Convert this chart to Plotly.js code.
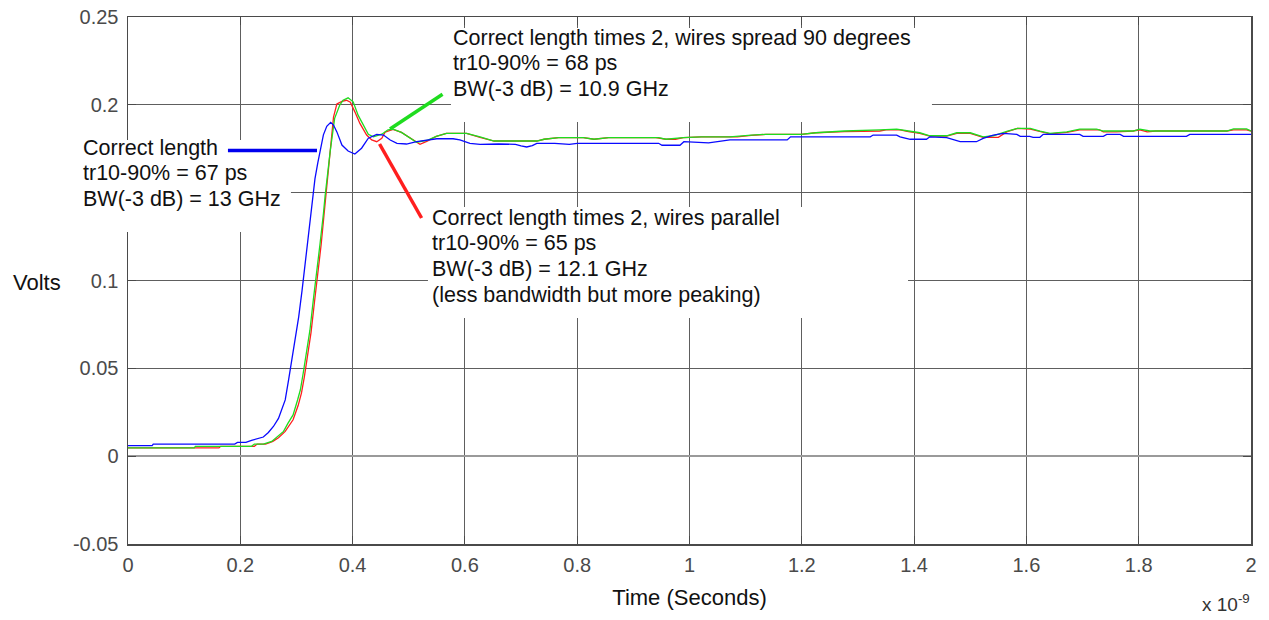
<!DOCTYPE html>
<html>
<head>
<meta charset="utf-8">
<script src="https://cdn.plot.ly/plotly-3.0.1.min.js"></script>
<style>
  html, body { margin: 0; padding: 0; background: #fff; }
  #chart { width: 1269px; height: 620px; }
</style>
</head>
<body>
<div id="chart"></div>
<script>
// Time in units of 1e-9 s (axis shows "x 10^-9"), voltage in volts
const tBlue = [0, 0.043, 0.045, 0.19, 0.195, 0.21, 0.22, 0.241, 0.25, 0.259, 0.268, 0.274, 0.28, 0.286, 0.292, 0.298, 0.304, 0.31, 0.316, 0.321, 0.327, 0.333, 0.338, 0.343, 0.348, 0.354, 0.361, 0.366, 0.372, 0.381, 0.392, 0.404, 0.416, 0.428, 0.443, 0.455, 0.467, 0.479, 0.496, 0.514, 0.532, 0.55, 0.579, 0.591, 0.609, 0.627, 0.66, 0.69, 0.7, 0.71, 0.72, 0.728, 0.76, 0.786, 0.8, 0.945, 0.951, 0.983, 0.99, 1.034, 1.072, 1.174, 1.18, 1.322, 1.327, 1.369, 1.375, 1.393, 1.422, 1.428, 1.458, 1.47, 1.482, 1.511, 1.523, 1.541, 1.559, 1.583, 1.589, 1.606, 1.612, 1.624, 1.63, 1.695, 1.701, 1.737, 1.743, 1.767, 1.773, 1.885, 1.891, 2.0];
const vBlue = [0.006, 0.006, 0.0069, 0.0069, 0.0078, 0.0078, 0.009, 0.0109, 0.0135, 0.0169, 0.0215, 0.0264, 0.032, 0.0434, 0.0547, 0.0661, 0.0793, 0.0944, 0.1115, 0.1266, 0.1445, 0.158, 0.167, 0.175, 0.1829, 0.1878, 0.19, 0.1885, 0.1846, 0.1771, 0.1737, 0.172, 0.1753, 0.181, 0.1832, 0.1828, 0.18, 0.1781, 0.1777, 0.179, 0.18, 0.1807, 0.1807, 0.18, 0.178, 0.1775, 0.1777, 0.1775, 0.1766, 0.176, 0.1768, 0.1781, 0.1781, 0.1775, 0.1781, 0.1781, 0.177, 0.177, 0.179, 0.1784, 0.18, 0.18, 0.1818, 0.1818, 0.1828, 0.1828, 0.1818, 0.1804, 0.1804, 0.1818, 0.1813, 0.18, 0.179, 0.179, 0.1809, 0.1828, 0.1838, 0.1832, 0.1821, 0.1821, 0.1815, 0.1815, 0.1832, 0.1832, 0.1821, 0.1821, 0.1832, 0.1832, 0.1821, 0.1821, 0.1832, 0.1832];

const tGreen = [0, 0.118, 0.12, 0.22, 0.225, 0.241, 0.256, 0.265, 0.277, 0.285, 0.294, 0.302, 0.307, 0.312, 0.318, 0.324, 0.33, 0.336, 0.342, 0.348, 0.351, 0.36, 0.368, 0.377, 0.383, 0.392, 0.401, 0.41, 0.419, 0.428, 0.437, 0.452, 0.463, 0.472, 0.487, 0.502, 0.514, 0.532, 0.549, 0.567, 0.603, 0.627, 0.652, 0.728, 0.741, 0.767, 0.811, 0.83, 0.856, 0.945, 0.958, 0.989, 1.021, 1.072, 1.085, 1.11, 1.136, 1.199, 1.225, 1.276, 1.339, 1.369, 1.39, 1.41, 1.428, 1.458, 1.476, 1.5, 1.523, 1.541, 1.565, 1.584, 1.607, 1.624, 1.642, 1.672, 1.695, 1.725, 1.737, 1.79, 1.802, 1.82, 1.957, 1.969, 1.992, 2.0];
const vGreen = [0.0047, 0.0047, 0.0056, 0.0056, 0.0069, 0.0069, 0.0084, 0.0109, 0.0141, 0.0188, 0.0235, 0.032, 0.0378, 0.0472, 0.0585, 0.0717, 0.0888, 0.1039, 0.1209, 0.138, 0.148, 0.1733, 0.1923, 0.1998, 0.2026, 0.204, 0.2017, 0.194, 0.1884, 0.1832, 0.1818, 0.1833, 0.1858, 0.1862, 0.1843, 0.181, 0.1787, 0.1797, 0.182, 0.1838, 0.1838, 0.1818, 0.1794, 0.1794, 0.1804, 0.1813, 0.1813, 0.1804, 0.1813, 0.1813, 0.1804, 0.1813, 0.1818, 0.1818, 0.1822, 0.1828, 0.1832, 0.1832, 0.1841, 0.1851, 0.1857, 0.1862, 0.1851, 0.1841, 0.1824, 0.1824, 0.1841, 0.1841, 0.1818, 0.1824, 0.1849, 0.1866, 0.1866, 0.185, 0.1838, 0.1846, 0.1862, 0.1862, 0.1851, 0.1851, 0.1862, 0.1851, 0.1851, 0.1863, 0.1863, 0.1851];

const tRed = [0, 0.162, 0.165, 0.225, 0.23, 0.245, 0.258, 0.268, 0.28, 0.288, 0.294, 0.303, 0.309, 0.314, 0.32, 0.326, 0.332, 0.338, 0.344, 0.349, 0.353, 0.36, 0.366, 0.372, 0.381, 0.389, 0.396, 0.404, 0.413, 0.425, 0.434, 0.443, 0.452, 0.458, 0.472, 0.487, 0.502, 0.52, 0.532, 0.549, 0.567, 0.603, 0.627, 0.652, 0.728, 0.741, 0.767, 0.811, 0.83, 0.856, 0.94, 0.958, 0.975, 0.989, 1.021, 1.085, 1.11, 1.136, 1.199, 1.225, 1.276, 1.339, 1.35, 1.375, 1.39, 1.41, 1.428, 1.458, 1.476, 1.5, 1.523, 1.55, 1.565, 1.584, 1.607, 1.624, 1.642, 1.672, 1.695, 1.73, 1.737, 1.76, 1.79, 1.802, 1.815, 1.83, 1.957, 1.969, 1.992, 2.0];
const vRed = [0.0047, 0.0047, 0.0056, 0.0056, 0.0069, 0.0069, 0.0084, 0.0105, 0.0141, 0.0175, 0.0207, 0.0288, 0.036, 0.045, 0.057, 0.0705, 0.0875, 0.103, 0.1205, 0.137, 0.15, 0.1745, 0.193, 0.2005, 0.202, 0.2026, 0.2015, 0.196, 0.1894, 0.1828, 0.18, 0.179, 0.181, 0.1845, 0.186, 0.1843, 0.181, 0.1775, 0.1792, 0.182, 0.1838, 0.1838, 0.1815, 0.1794, 0.1794, 0.1804, 0.1813, 0.1813, 0.1804, 0.1813, 0.1813, 0.1804, 0.1804, 0.1813, 0.1818, 0.1818, 0.1826, 0.1832, 0.1832, 0.1841, 0.1848, 0.1851, 0.1857, 0.1857, 0.1848, 0.1838, 0.1822, 0.1822, 0.1838, 0.1838, 0.1815, 0.1815, 0.1846, 0.1866, 0.1862, 0.1848, 0.1835, 0.1843, 0.1858, 0.1858, 0.1846, 0.1846, 0.1851, 0.1858, 0.1846, 0.1851, 0.1851, 0.1858, 0.1858, 0.1851];

// 0.15 label is hidden behind the "Correct length" text box in the reference
const yTickVals = [-0.05, 0, 0.05, 0.1, 0.15, 0.2, 0.25];
const yTickText = ['-0.05', '0', '0.05', '0.1', '', '0.2', '0.25'];
const xTickVals = [0, 0.2, 0.4, 0.6, 0.8, 1, 1.2, 1.4, 1.6, 1.8, 2];
const xTickText = ['0', '0.2', '0.4', '0.6', '0.8', '1', '1.2', '1.4', '1.6', '1.8', '2'];

const blueLabel = ['Correct length', 'tr10-90% = 67 ps', 'BW(-3 dB) = 13 GHz'];
const greenLabel = ['Correct length times 2, wires spread 90 degrees', 'tr10-90% = 68 ps', 'BW(-3 dB) = 10.9 GHz'];
const redLabel = ['Correct length times 2, wires parallel', 'tr10-90% = 65 ps', 'BW(-3 dB) = 12.1 GHz', '(less bandwidth but more peaking)'];

const FONT = 'Liberation Sans, Arial, sans-serif';

const traces = [
  {x: tRed, y: vRed, type: 'scatter', mode: 'lines', line: {color: '#ff1e1e', width: 1.3}, hoverinfo: 'skip'},
  {x: tGreen, y: vGreen, type: 'scatter', mode: 'lines', line: {color: '#1fdc1f', width: 1.3}, hoverinfo: 'skip'},
  {x: tBlue, y: vBlue, type: 'scatter', mode: 'lines', line: {color: '#0a0aff', width: 1.3}, hoverinfo: 'skip'}
];

function textLines(lines, x, ys) {
  return lines.map((t, i) => ({
    text: t, xref: 'paper', yref: 'paper', x: x, y: ys[i],
    xanchor: 'left', yanchor: 'middle', showarrow: false,
    font: {family: FONT, size: 21.5, color: '#111'}
  }));
}

const annotations = []
  .concat(textLines(blueLabel, -0.0415, [0.752, 0.7034, 0.6546]))
  .concat(textLines(greenLabel, 0.2876, [0.9602, 0.9118, 0.8634]))
  .concat(textLines(redLabel, 0.2689, [0.6195, 0.5712, 0.5218, 0.4731]))
  .concat([{
    text: 'Volts', xref: 'paper', yref: 'paper', x: -0.081, y: 0.497,
    xanchor: 'center', yanchor: 'middle', showarrow: false,
    font: {family: FONT, size: 22, color: '#111'}
  }, {
    text: 'x 10<sup>-9</sup>', xref: 'paper', yref: 'paper', x: 0.9545, y: -0.112,
    xanchor: 'left', yanchor: 'middle', showarrow: false,
    font: {family: FONT, size: 19, color: '#333'}
  }]);

const whiteBox = (x0, x1, y0, y1) => ({type: 'rect', xref: 'paper', yref: 'paper', x0, x1, y0, y1,
  fillcolor: '#ffffff', line: {width: 0}, layer: 'above'});
const pointer = (x0, y0, x1, y1, c) => ({type: 'line', xref: 'paper', yref: 'paper', x0, y0, x1, y1,
  line: {color: c, width: 3.5}, layer: 'above'});

const shapes = [
  whiteBox(-0.0427, 0.1451, 0.5920, 0.7666),
  whiteBox(0.2876, 0.7159, 0.8008, 0.9791),
  whiteBox(0.2671, 0.6946, 0.4288, 0.6395),
  pointer(0.0890, 0.7467, 0.1683, 0.7467, '#0000ee'),
  pointer(0.2333, 0.7875, 0.2801, 0.8533, '#1fdc1f'),
  pointer(0.2240, 0.7590, 0.2614, 0.6186, '#ff1e1e')
];

const axisCommon = {
  showgrid: true, gridcolor: '#5e5e5e', gridwidth: 1,
  showline: true, linecolor: '#4a4a4a', linewidth: 1.5, mirror: 'ticks',
  ticks: 'inside', ticklen: 8, tickcolor: '#4a4a4a', tickwidth: 1,
  tickfont: {family: FONT, size: 20, color: '#4a4a4a'},
  tickmode: 'array', fixedrange: true
};

const layout = {
  width: 1269, height: 620,
  margin: {l: 128, r: 18, t: 17, b: 76},
  paper_bgcolor: '#ffffff', plot_bgcolor: '#ffffff',
  showlegend: false,
  xaxis: Object.assign({}, axisCommon, {
    range: [0, 2], tickvals: xTickVals, ticktext: xTickText, zeroline: false,
    ticklabelstandoff: 2,
    title: {text: 'Time (Seconds)', font: {family: FONT, size: 22, color: '#111'}, standoff: 15}
  }),
  yaxis: Object.assign({}, axisCommon, {
    range: [-0.05, 0.25], tickvals: yTickVals, ticktext: yTickText,
    zeroline: true, zerolinecolor: '#9a9a9a', zerolinewidth: 2,
    ticklabelstandoff: 4
  }),
  shapes: shapes,
  annotations: annotations
};

Plotly.newPlot('chart', traces, layout, {displayModeBar: false, staticPlot: true});
</script>
</body>
</html>
